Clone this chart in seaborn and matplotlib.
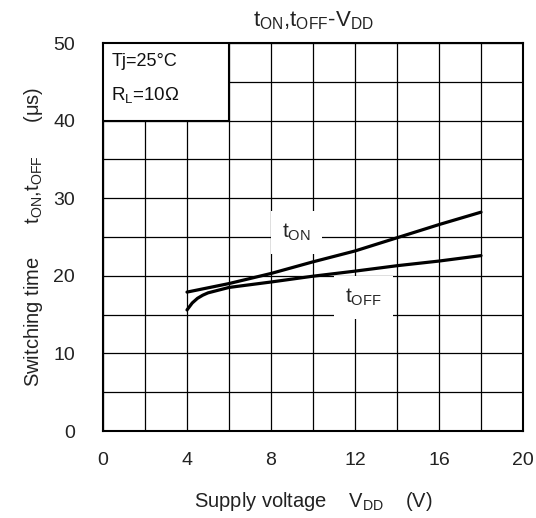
import matplotlib
matplotlib.use("Agg")
import matplotlib.pyplot as plt
from matplotlib.patches import Rectangle
from matplotlib.ticker import MultipleLocator
import numpy as np
import pandas as pd
import seaborn as sns

# Switching times vs supply voltage
vdd_on = [4, 6, 8, 10, 12, 14, 16, 18]
t_on = [17.9, 19.0, 20.3, 21.8, 23.2, 24.9, 26.6, 28.2]

vdd_off = [4, 4.25, 4.5, 4.75, 5, 6, 8, 10, 12, 14, 16, 18]
t_off = [15.6, 16.5, 17.1, 17.5, 17.8, 18.5, 19.2, 19.95, 20.6, 21.3, 21.9, 22.6]

x_ticks = [0, 4, 8, 12, 16, 20]
y_ticks = [0, 10, 20, 30, 40, 50]

sns.set_style("white")
plt.rcParams["font.family"] = ["Liberation Sans", "DejaVu Sans"]
plt.rcParams["mathtext.fontset"] = "custom"
plt.rcParams["mathtext.rm"] = "Liberation Sans"

df = pd.concat([
    pd.DataFrame({"vdd": vdd_on, "t": t_on, "curve": "on"}),
    pd.DataFrame({"vdd": vdd_off, "t": t_off, "curve": "off"}),
])

fig = plt.figure(figsize=(5.36, 5.18), dpi=100)
ax = fig.add_axes([103 / 536, 1 - 431 / 518, 420 / 536, 388 / 518])

sns.lineplot(data=df, x="vdd", y="t", units="curve", estimator=None,
             color="black", linewidth=2.3, sort=False, ax=ax, zorder=5)

ax.set_xlim(0, 20)
ax.set_ylim(0, 50)
ax.set_xticks(x_ticks)
ax.set_yticks(y_ticks)
ax.xaxis.set_minor_locator(MultipleLocator(2))
ax.yaxis.set_minor_locator(MultipleLocator(5))
ax.grid(True, which="both", color="black", linewidth=0.9)
ax.set_axisbelow(True)
ax.tick_params(which="both", length=0, labelsize=14, labelcolor="#222222")
ax.tick_params(axis="x", pad=15)
ax.tick_params(axis="y", pad=20)
for sp in ax.spines.values():
    sp.set_visible(True)
    sp.set_color("black")
    sp.set_linewidth(1.5)

ax.set_xlabel(r"Supply voltage    $\mathregular{V_{DD}}$    (V)", fontsize=14.5,
              labelpad=15, color="#222222")
ax.set_ylabel(r"Switching time      $\mathregular{t_{ON}}$,$\mathregular{t_{OFF}}$      (μs)",
              fontsize=14.5, labelpad=6, color="#222222")
ax.set_title(r"$\mathregular{t_{ON}}$,$\mathregular{t_{OFF}}$-$\mathregular{V_{DD}}$",
             fontsize=16, pad=12, color="#222222")

# Conditions box
ax.add_patch(Rectangle((0, 40), 6, 10, facecolor="white", edgecolor="black",
                       linewidth=1.5, zorder=3))
ax.text(0.4, 47.6, "Tj=25°C", fontsize=13, va="center", ha="left", zorder=4,
        color="#111111")
ax.text(0.4, 43.3, r"$\mathregular{R_{L}}$=10Ω", fontsize=13.5, va="center",
        ha="left", zorder=4, color="#111111")

# Curve labels
ax.text(9.2, 25.6, r"$\mathregular{t_{ON}}$", fontsize=15, ha="center",
        va="center", zorder=4,
        bbox=dict(facecolor="white", edgecolor="none", pad=8))
ax.text(12.4, 17.2, r"$\mathregular{t_{OFF}}$", fontsize=15, ha="center",
        va="center", zorder=4,
        bbox=dict(facecolor="white", edgecolor="none", pad=8))

fig.savefig("out.png", dpi=100)
